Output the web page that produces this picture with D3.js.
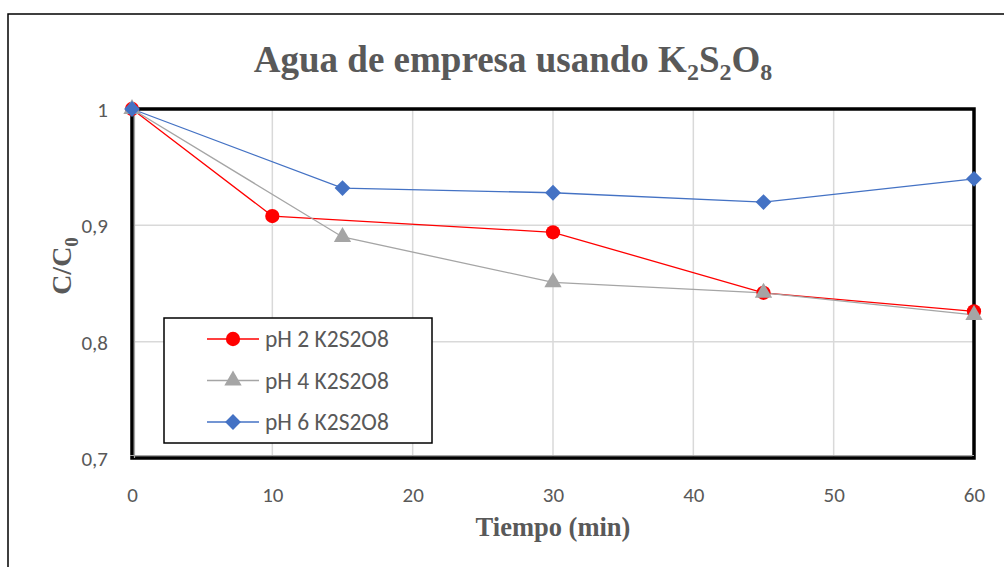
<!DOCTYPE html>
<html><head><meta charset="utf-8">
<script src="https://cdn.jsdelivr.net/npm/d3@7"></script>
<style>body{margin:0;background:#fff;}svg{display:block;}</style>
</head><body>
<svg id="c" width="1004" height="567"></svg>
<script>
const xTicks = [0,10,20,30,40,50,60];
const yTicks = [0.7,0.8,0.9,1];
const seriesNames = ["pH 2 K2S2O8","pH 4 K2S2O8","pH 6 K2S2O8"];
const timesPH2 = [0,10,30,45,60];
const valuesPH2 = [1,0.908,0.894,0.842,0.826];
const timesPH4 = [0,15,30,45,60];
const valuesPH4 = [1,0.890,0.851,0.842,0.823];
const timesPH6 = [0,15,30,45,60];
const valuesPH6 = [1,0.932,0.928,0.920,0.940];

const svg = d3.select("#c");
const L=132,R=974,T=109,B=458;
const x = d3.scaleLinear().domain([0,60]).range([L,R]);
const y = d3.scaleLinear().domain([0.7,1]).range([B,T]);
const grey="#595959";
const sans="Carlito, Calibri, 'Open Sans', sans-serif";
const serif="'Liberation Serif', 'Times New Roman', serif";

// outer border
svg.append("rect").attr("x",8).attr("y",14).attr("width",1010).attr("height",570)
  .attr("fill","none").attr("stroke","#000").attr("stroke-width",1.5);

// gridlines
svg.append("g").selectAll("line").data(xTicks.filter(d=>d>0&&d<60)).join("line")
  .attr("x1",d=>x(d)).attr("x2",d=>x(d)).attr("y1",T).attr("y2",B)
  .attr("stroke","#d9d9d9").attr("stroke-width",1.5);
svg.append("g").selectAll("line").data(yTicks.filter(d=>d>0.7&&d<1)).join("line")
  .attr("x1",L).attr("x2",R).attr("y1",d=>y(d)).attr("y2",d=>y(d))
  .attr("stroke","#d9d9d9").attr("stroke-width",1.5);

// plot frame
svg.append("rect").attr("x",L).attr("y",T).attr("width",R-L).attr("height",B-T)
  .attr("fill","none").attr("stroke","#000").attr("stroke-width",3.5);
svg.append("line").attr("x1",L-2).attr("x2",R).attr("y1",B-2.5).attr("y2",B-2.5).attr("stroke","#a6a6a6").attr("stroke-width",1.2);
svg.append("line").attr("x1",L+2.5).attr("x2",L+2.5).attr("y1",T).attr("y2",B).attr("stroke","#a6a6a6").attr("stroke-width",1.2);

// tick labels
const xAxis = svg.append("g").attr("transform",`translate(0,${B+41})`)
  .call(d3.axisBottom(x).tickValues(xTicks).tickSize(0).tickFormat(d3.format("d")));
xAxis.select(".domain").remove();
xAxis.selectAll("text").attr("font-family",sans).attr("font-size",21).attr("fill",grey).attr("dy","0");
const yAxis = svg.append("g").attr("transform",`translate(${L-21},0)`)
  .call(d3.axisLeft(y).tickValues(yTicks).tickSize(0).tickFormat(d=>d===1?"1":d3.format(".1f")(d).replace(".",",")));
yAxis.select(".domain").remove();
yAxis.selectAll("text").attr("font-family",sans).attr("font-size",21).attr("fill",grey).attr("dy","0.35em");

// series
const series = [
  {name:seriesNames[0], t:timesPH2, v:valuesPH2, color:"#ff0000", sym:d3.symbolCircle, size:160, rot:0},
  {name:seriesNames[1], t:timesPH4, v:valuesPH4, color:"#a5a5a5", sym:d3.symbolTriangle, size:130, rot:0},
  {name:seriesNames[2], t:timesPH6, v:valuesPH6, color:"#4472c4", sym:d3.symbolSquare, size:125, rot:45}
];
const line = d3.line().x(d=>x(d[0])).y(d=>y(d[1]));
series.forEach(s=>{
  const pts = s.t.map((t,i)=>[t,s.v[i]]);
  svg.append("path").datum(pts).attr("d",line).attr("fill","none").attr("stroke",s.color).attr("stroke-width",1.3);
});
series.forEach(s=>{
  const pts = s.t.map((t,i)=>[t,s.v[i]]);
  svg.append("g").selectAll("path").data(pts).join("path")
    .attr("d",d3.symbol().type(s.sym).size(s.size))
    .attr("transform",d=>`translate(${x(d[0])},${y(d[1])}) rotate(${s.rot})`)
    .attr("fill",s.color);
});

// legend
const lg = svg.append("g");
lg.append("rect").attr("x",164).attr("y",318).attr("width",268).attr("height",125)
  .attr("fill","#fff").attr("stroke","#000").attr("stroke-width",1.5);
series.forEach((s,i)=>{
  const cy = 339 + i*41.5;
  lg.append("line").attr("x1",207).attr("x2",259).attr("y1",cy).attr("y2",cy).attr("stroke",s.color).attr("stroke-width",1.3);
  lg.append("path").attr("d",d3.symbol().type(s.sym).size(s.size)).attr("transform",`translate(233,${cy}) rotate(${s.rot})`).attr("fill",s.color);
  lg.append("text").attr("x",265).attr("y",cy).attr("dy","0.35em").text(s.name)
    .attr("font-family",sans).attr("font-size",23.5).attr("fill",grey);
});

// title
const title = svg.append("text").attr("x",513).attr("y",72).attr("text-anchor","middle")
  .attr("font-family",serif).attr("font-weight","bold")
  .attr("font-size",37).attr("fill",grey);
title.append("tspan").text("Agua de empresa usando K");
title.append("tspan").text("2").attr("font-size",24).attr("dy",8);
title.append("tspan").text("S").attr("dy",-8);
title.append("tspan").text("2").attr("font-size",24).attr("dy",8);
title.append("tspan").text("O").attr("dy",-8);
title.append("tspan").text("8").attr("font-size",24).attr("dy",8);

// axis titles
svg.append("text").attr("x",553).attr("y",536).attr("text-anchor","middle")
  .attr("font-family",serif).attr("font-weight","bold")
  .attr("font-size",26.5).attr("fill",grey).text("Tiempo (min)");
const yt = svg.append("text").attr("transform","translate(71,266) rotate(-90)").attr("text-anchor","middle")
  .attr("font-family",serif).attr("font-weight","bold")
  .attr("font-size",28).attr("fill",grey);
yt.append("tspan").text("C/C");
yt.append("tspan").text("0").attr("font-size",19).attr("dy",7);
</script>
</body></html>
